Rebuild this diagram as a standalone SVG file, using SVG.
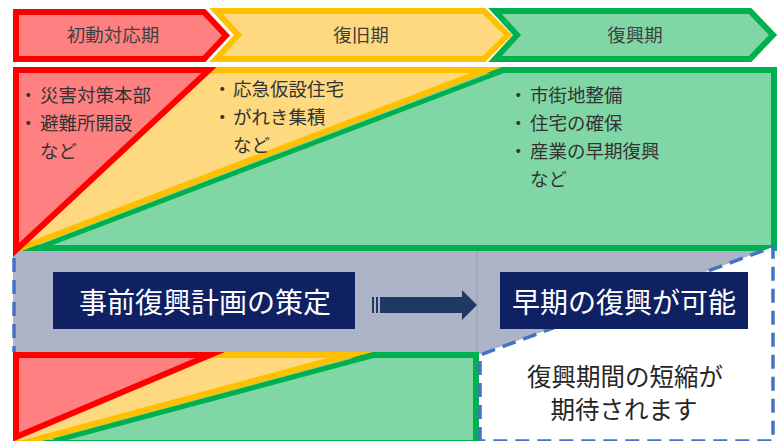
<svg xmlns="http://www.w3.org/2000/svg" width="782" height="441" viewBox="0 0 782 441">
<defs>
<style>
.red{fill:#FF8080;stroke:#FF0000;stroke-width:6;stroke-linejoin:miter;stroke-miterlimit:12}
.yel{fill:#FFD97F;stroke:#FFC000;stroke-width:6;stroke-linejoin:miter;stroke-miterlimit:12}
.grn{fill:#80D6A5;stroke:#00B050;stroke-width:6;stroke-linejoin:miter;stroke-miterlimit:12}
.gline{fill:none;stroke:#00B050;stroke-width:5}
.t{font-family:"Noto Sans CJK JP","Noto Sans CJK SC",sans-serif}
.hd{font-size:18.5px;fill:#404040;text-anchor:middle}
.li{font-size:18.5px;fill:#333333}
.box{fill:#0F2163}
.bt{font-size:28px;fill:#FFFFFF;text-anchor:middle}
.rt{font-size:24.5px;fill:#262626;text-anchor:middle}
.dash{stroke:#4472C4;stroke-width:3.5;stroke-dasharray:14 8}
</style>
</defs>
<rect width="782" height="441" fill="#FFFFFF"/>

<g id="phase-initial">
<polygon class="red" points="16,12 204,12 226,35.5 204,59 16,59"/>
<text class="t hd" x="113" y="42">初動対応期</text>
</g>
<g id="phase-recovery">
<polygon class="yel" points="216,11 484,11 508,35 484,59 216,59 238,35"/>
<text class="t hd" x="361" y="42">復旧期</text>
</g>
<g id="phase-reconstruction">
<polygon class="grn" points="495,11 750,11 773,35 750,59 495,59 517,35"/>
<text class="t hd" x="635" y="42">復興期</text>
</g>

<g id="plan-band">
<polygon fill="#AEB4C8" points="13,250 777,248 480,354 13,354"/>
<line x1="477" y1="251" x2="477" y2="352" stroke="#9EA4B8" stroke-width="1.5"/>
<path class="dash" fill="none" d="M14,258 V352"/>
</g>

<g id="timeline-current">
<rect class="grn" x="16" y="70" width="758" height="178"/>
<polygon class="yel" points="16,70 486,70 16,250"/>
<line class="gline" x1="38" y1="248" x2="505" y2="70"/>
<polygon class="red" points="16,70 209,70 16,250"/>
<text class="t li" y="102"><tspan x="19">・</tspan><tspan x="40">災害対策本部</tspan></text>
<text class="t li" y="130"><tspan x="19">・</tspan><tspan x="40">避難所開設</tspan></text>
<text class="t li" x="40" y="158">など</text>
<text class="t li" y="96"><tspan x="213">・</tspan><tspan x="233">応急仮設住宅</tspan></text>
<text class="t li" y="124"><tspan x="213">・</tspan><tspan x="233">がれき集積</tspan></text>
<text class="t li" x="233" y="152">など</text>
<text class="t li" y="102"><tspan x="509">・</tspan><tspan x="530">市街地整備</tspan></text>
<text class="t li" y="130"><tspan x="509">・</tspan><tspan x="530">住宅の確保</tspan></text>
<text class="t li" y="158"><tspan x="509">・</tspan><tspan x="530">産業の早期復興</tspan></text>
<text class="t li" x="530" y="186">など</text>
</g>

<g id="timeline-shortened">
<rect class="grn" x="16" y="355" width="460" height="88"/>
<polygon class="yel" points="16,355 350,355 16,445"/>
<line class="gline" x1="375" y1="355" x2="54" y2="441"/>
<polygon class="red" points="16,355 210,355 16,437"/>
</g>

<g id="result-area">
<path class="dash" fill="#FFFFFF" d="M480,441 V355 L773,247 V441 Z"/>
<text class="t rt" x="625" y="386">復興期間の短縮が</text>
<text class="t rt" x="624" y="419">期待されます</text>
</g>

<g id="plan-box">
<rect class="box" x="53" y="272" width="302" height="57"/>
<text class="t bt" x="205" y="313">事前復興計画の策定</text>
</g>
<g id="early-box">
<rect class="box" x="500" y="272" width="248" height="57"/>
<text class="t bt" x="624" y="313">早期の復興が可能</text>
</g>

<g id="connectors">
<path fill="#203864" d="M372,297 h2 v16 h-2 z M376,297 h2 v16 h-2 z M380,297 H462 V290 L477,305 L462,320 V313 H380 Z"/>
</g>
</svg>
